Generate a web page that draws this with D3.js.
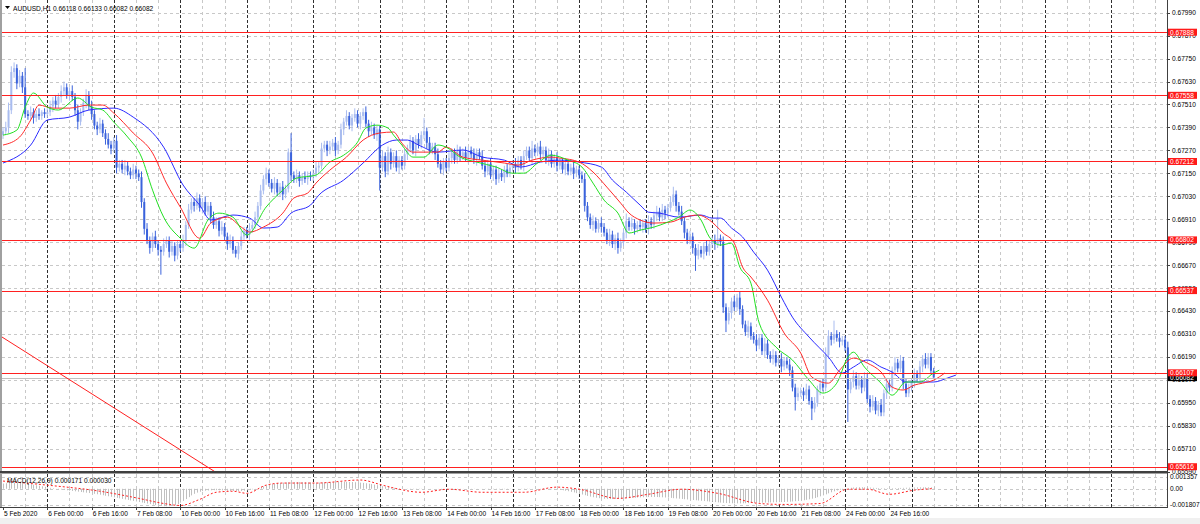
<!DOCTYPE html>
<html><head><meta charset="utf-8">
<script src="https://cdn.jsdelivr.net/npm/d3@7"></script>
<style>
html,body{margin:0;padding:0;background:#fff;overflow:hidden;}
svg{display:block;}
text{font-family:"Liberation Sans", Arial, sans-serif;}
</style></head><body>
<svg id="c" width="1200" height="524"></svg>
<script>
// ---------------- DATA ----------------
const chartTitle = "AUDUSD,H1  0.66118 0.66133 0.66082 0.66082";
const macdTitle = "MACD(12,26,9) 0.000171 0.000030";
const firstOpen = 0.6735;
// hourly closes, 5 Feb 08:00 .. 25 Feb 08:00
const closes = [
0.6737,0.6739,0.6748,0.6768,0.6770,0.6762,0.6766,0.6760,0.6746,0.6745,0.6747,0.6744,0.6746,0.6745,0.6747,0.6746,
0.6747,0.6750,0.6753,0.6751,0.6755,0.6758,0.6760,0.6756,0.6758,0.6755,0.6748,0.6742,0.6747,0.6752,0.6756,0.6750,0.6746,0.6740,0.6738,0.6741,0.6736,0.6733,0.6730,0.6728,
0.6732,0.6718,0.6720,0.6717,0.6719,0.6716,0.6714,0.6717,0.6715,0.6713,0.6700,0.6686,0.6680,0.6676,0.6682,0.6678,0.6675,0.6674,0.6678,0.6680,0.6674,0.6677,0.6672,0.6678,
0.6676,0.6680,0.6688,0.6696,0.6700,0.6698,0.6702,0.6697,0.6700,0.6695,0.6698,0.6692,0.6688,0.6690,0.6685,0.6687,0.6682,0.6678,0.6680,0.6675,0.6673,0.6677,0.6682,0.6685,
0.6683,0.6686,0.6688,0.6692,0.6698,0.6706,0.6712,0.6715,0.6710,0.6707,0.6710,0.6705,0.6708,0.6704,0.6707,0.6726,0.6714,0.6712,0.6714,0.6711,0.6713,0.6712,0.6714,0.6713,
0.6715,0.6718,0.6719,0.6728,0.6730,0.6727,0.6729,0.6731,0.6727,0.6730,0.6738,0.6742,0.6745,0.6740,0.6744,0.6746,0.6741,0.6745,0.6747,0.6741,0.6737,0.6739,0.6735,0.6738,
0.6718,0.6724,0.6716,0.6726,0.6720,0.6724,0.6718,0.6722,0.6719,0.6725,0.6728,0.6732,0.6727,0.6733,0.6730,0.6735,0.6737,0.6731,0.6727,0.6729,0.6725,0.6720,0.6717,0.6721,
0.6718,0.6723,0.6726,0.6722,0.6727,0.6724,0.6726,0.6723,0.6727,0.6725,0.6722,0.6726,0.6724,0.6719,0.6716,0.6720,0.6714,0.6717,0.6712,0.6715,0.6713,0.6717,0.6715,0.6718,
0.6720,0.6718,0.6722,0.6719,0.6724,0.6727,0.6723,0.6728,0.6726,0.6729,0.6725,0.6727,0.6722,0.6725,0.6720,0.6723,0.6719,0.6721,0.6717,0.6720,0.6716,0.6718,0.6715,0.6717,
0.6714,0.6712,0.6698,0.6692,0.6688,0.6690,0.6686,0.6689,0.6687,0.6684,0.6680,0.6683,0.6678,0.6681,0.6676,0.6679,0.6684,0.6690,0.6687,0.6689,0.6686,0.6688,0.6687,0.6689,
0.6686,0.6690,0.6688,0.6693,0.6695,0.6692,0.6696,0.6694,0.6697,0.6700,0.6704,0.6698,0.6695,0.6690,0.6684,0.6680,0.6682,0.6676,0.6672,0.6675,0.6673,0.6677,0.6674,0.6678,
0.6680,0.6678,0.6681,0.6679,0.6645,0.6638,0.6642,0.6648,0.6645,0.6650,0.6644,0.6636,0.6632,0.6635,0.6630,0.6628,0.6625,0.6629,0.6622,0.6626,0.6620,0.6618,0.6620,0.6616,
0.6618,0.6614,0.6617,0.6615,0.6612,0.6603,0.6598,0.6600,0.6601,0.6599,0.6602,0.6596,0.6592,0.6595,0.6602,0.6605,0.6603,0.6620,0.6630,0.6628,0.6631,0.6629,0.6627,0.6628,
0.6624,0.6602,0.6606,0.6609,0.6604,0.6607,0.6603,0.6608,0.6597,0.6593,0.6596,0.6591,0.6594,0.6590,0.6600,0.6605,0.6603,0.6612,0.6616,0.6613,0.6617,0.6605,0.6600,0.6603,
0.6606,0.6610,0.6608,0.6614,0.6618,0.6615,0.6619,0.66118,0.66082];
// upper / lower wick length of each bar, in pips
const wickHiPips = [
2,3,4,3,3,2,3,2,10,2,3,2,2,3,1,2,
2,3,2,3,2,3,3,2,2,3,2,3,2,2,3,2,3,2,2,3,2,2,3,2,
2,3,2,2,3,2,2,3,2,2,3,2,3,2,2,3,2,2,3,2,2,3,2,2,
2,3,2,3,2,2,3,2,2,3,2,2,3,2,2,3,2,2,3,2,2,2,3,2,
2,3,2,3,2,3,2,3,2,2,3,2,2,3,2,2,10,2,3,2,2,3,2,2,
2,3,2,3,2,2,3,2,3,2,3,2,3,2,2,3,2,2,2,3,2,3,2,2,
2,3,2,3,2,2,3,2,2,3,2,3,2,2,3,2,7,2,3,2,2,3,2,2,
2,3,2,2,3,2,2,3,2,2,3,2,2,3,2,2,3,2,2,3,2,2,3,2,
2,3,2,2,3,2,2,4,2,2,3,2,2,3,2,2,3,2,2,3,2,2,3,2,
2,2,3,2,2,3,2,2,3,2,2,3,2,2,3,2,2,4,2,3,2,2,3,2,
2,3,2,2,3,2,3,2,2,3,4,2,2,3,2,2,3,2,2,3,2,2,3,2,
2,3,15,2,3,2,3,2,3,2,3,2,2,3,2,2,3,2,2,3,2,2,3,2,
2,3,2,2,3,2,2,3,2,2,3,2,2,3,2,2,3,4,3,2,7,2,3,2,
2,3,2,3,2,3,2,3,2,2,3,2,2,3,2,3,2,2,3,2,3,2,3,2,
2,3,2,3,2,3,2,2,1.5];
const wickLoPips = [
2,2,3,2,3,3,2,3,2,2,2,3,2,2,2,2,
2,2,3,2,2,3,2,2,3,2,3,4,2,2,3,2,3,2,3,2,2,3,2,3,
2,3,2,2,3,2,2,2,3,2,3,3,2,3,2,2,3,12,2,2,3,2,3,2,
2,2,3,2,2,3,2,2,3,2,2,3,2,2,3,2,2,3,2,2,2,3,2,2,
2,3,2,2,3,2,2,3,2,2,3,2,2,3,2,2,3,2,2,3,2,2,3,2,
2,2,3,2,2,3,2,2,3,2,2,3,2,2,3,2,2,3,2,2,3,2,2,3,
12,2,3,2,3,2,2,3,2,2,3,2,2,3,2,2,2,3,2,2,3,2,2,3,
2,2,3,2,2,3,2,2,3,2,2,3,2,2,3,2,2,3,3,2,2,3,2,2,
2,3,2,2,3,2,2,3,2,2,3,2,2,3,2,2,3,2,2,3,2,2,3,2,
2,2,3,2,2,3,2,2,3,2,2,3,2,3,3,2,2,3,2,2,3,2,2,3,
2,3,2,2,3,2,2,3,2,2,2,3,2,2,3,2,2,3,8,2,2,3,2,2,
2,3,2,2,3,6,2,3,2,2,3,2,2,3,2,2,3,2,2,3,2,2,3,2,
2,3,2,2,3,2,7,2,2,3,2,2,6,2,2,3,2,2,2,3,2,2,3,2,
2,17,2,3,2,2,3,2,2,3,2,2,3,2,2,3,2,2,3,2,2,3,2,2,
2,3,2,2,3,2,2,2,0];

// Alligator lines (bar index, price)
const jawBars = [0,10,16,24,31,40,47,58,65,71,75,83,89,94,99,104,111,114,123,130,137,142,146,150,157,166,173,181,187,194,201,208,216,220,225,230,233,237,244,252,256,259,263,267,271,276,281,285,291,298,303,307,312,317,321,326,331,336,341,344];
const jawPrices = [0.67204,0.67298,0.67429,0.67444,0.67481,0.67491,0.67444,0.67287,0.67089,0.66984,0.66906,0.66932,0.66916,0.66864,0.66869,0.66942,0.66984,0.67036,0.67115,0.67204,0.67298,0.67324,0.67324,0.67298,0.67261,0.67272,0.67235,0.67219,0.67183,0.67209,0.67219,0.67209,0.67183,0.67115,0.67052,0.66984,0.66947,0.66942,0.66921,0.66932,0.66916,0.66916,0.66864,0.66817,0.66738,0.66644,0.66503,0.66398,0.66294,0.66189,0.66106,0.66137,0.66174,0.66137,0.66111,0.66059,0.66059,0.66059,0.66080,0.66095];
const teethBars = [0,6,10,13,18,24,31,36,40,47,54,59,64,71,75,81,86,89,94,101,105,110,113,118,124,130,136,141,144,148,157,160,166,173,181,186,191,198,201,208,213,218,223,226,230,235,241,246,251,255,260,264,267,270,276,282,288,292,298,302,307,312,317,321,325,329,332,336,340];
const teethPrices = [0.67298,0.67340,0.67429,0.67507,0.67491,0.67491,0.67507,0.67507,0.67465,0.67361,0.67256,0.67099,0.66974,0.66811,0.66890,0.66921,0.66869,0.66843,0.66869,0.66942,0.67021,0.67047,0.67099,0.67167,0.67235,0.67324,0.67361,0.67366,0.67308,0.67261,0.67261,0.67287,0.67235,0.67219,0.67204,0.67193,0.67219,0.67235,0.67230,0.67209,0.67157,0.67078,0.66994,0.66942,0.66906,0.66890,0.66895,0.66921,0.66932,0.66906,0.66838,0.66785,0.66660,0.66608,0.66487,0.66315,0.66210,0.66085,0.66053,0.66121,0.66184,0.66158,0.66111,0.66032,0.66017,0.66043,0.66053,0.66069,0.66106];
const lipsBars = [0,5,8,11,16,20,27,32,36,40,45,50,54,58,64,69,74,78,83,88,95,101,106,113,118,123,128,131,135,139,141,144,148,152,157,160,165,171,178,184,188,193,198,204,209,213,217,222,226,230,235,240,244,248,252,255,259,263,266,270,273,279,285,291,296,301,305,307,311,317,321,326,331,336,338];
const lipsPrices = [0.67350,0.67376,0.67496,0.67570,0.67496,0.67481,0.67544,0.67496,0.67481,0.67418,0.67340,0.67235,0.67062,0.66921,0.66811,0.66759,0.66906,0.66942,0.66921,0.66827,0.66974,0.67062,0.67125,0.67141,0.67209,0.67245,0.67313,0.67387,0.67402,0.67387,0.67350,0.67298,0.67235,0.67235,0.67298,0.67287,0.67235,0.67209,0.67183,0.67151,0.67151,0.67204,0.67245,0.67219,0.67183,0.67099,0.67010,0.66942,0.66838,0.66853,0.66869,0.66895,0.66921,0.66958,0.66906,0.66817,0.66775,0.66785,0.66660,0.66576,0.66367,0.66242,0.66174,0.66069,0.66001,0.66053,0.66189,0.66215,0.66137,0.66053,0.65990,0.66059,0.66059,0.66106,0.66121];

// MACD main (histogram), in points (0.00001), one per bar
const macdMainPts = [
60,64,68,70,72,71,69,66,62,58,53,47,41,35,29,23,
17,11,6,1,-4,-9,-13,-17,-21,-25,-29,-33,-37,-41,-45,-49,
-53,-58,-63,-68,-74,-80,-86,-92,-98,-104,-110,-116,-122,-128,-134,-140,
-146,-152,-158,-164,-170,-176,-182,-188,-193,-197,-200,-201,-200,-196,-188,-176,
-160,-140,-118,-96,-76,-58,-44,-34,-27,-22,-19,-17,-16,-16,-17,-18,
-20,-22,-24,-25,-26,-26,-25,-22,-18,-12,-6,1,9,18,28,38,
46,53,59,64,68,71,73,75,76,77,77,77,76,75,74,73,
72,71,71,72,73,74,75,76,77,78,79,80,80,79,78,76,
74,71,68,64,59,54,48,42,36,30,25,20,15,11,7,4,
2,0,-2,-3,-4,-4,-3,-2,-1,0,1,1,0,-1,-2,-3,
-4,-5,-5,-4,-3,-2,-1,0,1,2,2,1,0,-1,-2,-3,
-4,-5,-6,-6,-5,-4,-3,-2,-1,0,1,2,3,3,2,1,
0,-1,-2,-3,-4,-5,-6,-8,-10,-13,-17,-22,-28,-35,-42,-50,
-58,-66,-74,-82,-90,-97,-103,-108,-112,-115,-117,-118,-118,-117,-115,-113,
-111,-109,-107,-105,-103,-101,-99,-97,-96,-95,-94,-94,-95,-96,-98,-100,
-102,-105,-108,-111,-114,-117,-120,-123,-126,-129,-132,-135,-138,-141,-144,-147,
-150,-153,-156,-159,-162,-164,-166,-167,-168,-168,-168,-167,-166,-165,-164,-163,
-162,-161,-160,-159,-158,-157,-156,-155,-154,-153,-152,-150,-148,-146,-143,-140,
-136,-132,-127,-121,-114,-106,-97,-87,-76,-64,-52,-40,-29,-19,-10,-3,
3,8,12,15,17,18,18,17,16,14,12,10,8,7,6,6,
6,7,8,9,10,11,12,13,14,15,16,17,17,17,17,17,17];
// MACD signal read at sample bars (points)
const signalBars = [0,16,35,49,58,64,71,77,83,88,95,101,113,129,137,143,151,161,173,188,200,208,222,233,245,258,273,282,295,305,312,320,329,336];
const signalPts = [89,42,-28,-110,-169,-192,-122,-40,-28,-52,42,66,66,101,42,-5,-40,-5,-40,-40,19,-5,-110,-63,-5,-52,-169,-180,-169,-5,-5,-63,-16,3];

// horizontal levels
const levelPrices = [0.67888,0.67558,0.67212,0.66802,0.66537,0.66107,0.65616];
const bidPrice = 0.66082;
// trend line (bar index, price)
const trendBars = [-1, 76.5];
const trendPrices = [0.66300, 0.65590];
// price axis ticks
const priceTicks = [0.67990,0.67870,0.67750,0.67630,0.67510,0.67390,0.67270,0.67150,0.67030,0.66910,0.66790,0.66670,0.66550,0.66430,0.66310,0.66190,0.66070,0.65950,0.65830,0.65710,0.65590];
const macdTicks = [0.001357, 0.00, -0.001807];
const macdTickLabels = ["0.001357","0.00","-0.001807"];
// time axis
const timeLabelBars = [0,16,32,48,64,80,96,112,128,144,160,176,192,208,224,240,256,272,288,304,320];
const timeLabels = ["5 Feb 2020","6 Feb 00:00","6 Feb 16:00","7 Feb 08:00","10 Feb 00:00","10 Feb 16:00","11 Feb 08:00","12 Feb 00:00","12 Feb 16:00","13 Feb 08:00","14 Feb 00:00","14 Feb 16:00","17 Feb 08:00","18 Feb 00:00","18 Feb 16:00","19 Feb 08:00","20 Feb 00:00","20 Feb 16:00","21 Feb 08:00","24 Feb 00:00","24 Feb 16:00"];
const daySeparatorBars = [16,40,64,88,112,136,160,184,208,232,256,280,304,328,352,376,400];

// ---------------- DRAW ----------------
const svg = d3.select("#c");
const W = 1200, H = 524;
const plotRight = 1167, mainTop = 0, mainBottom = 471, subTop = 474, subBottom = 507;
const x = d3.scaleLinear().domain([0, 420]).range([3, 3 + 420 * 2.77]);
const y = d3.scaleLinear().domain([0.65590, 0.67990]).range([471.7, 12.7]);
const ym = d3.scaleLinear().domain([-0.001807, 0.001357]).range([504.5, 477]);

svg.append("rect").attr("width", W).attr("height", H).attr("fill", "#ffffff");
svg.append("rect").attr("x", 0).attr("y", 518).attr("width", W).attr("height", 6).attr("fill", "#f0f0f0");

const defs = svg.append("defs");
defs.append("clipPath").attr("id", "mainClip").append("rect")
  .attr("x", 2).attr("y", mainTop).attr("width", plotRight - 2).attr("height", mainBottom - mainTop);
defs.append("clipPath").attr("id", "subClip").append("rect")
  .attr("x", 2).attr("y", subTop).attr("width", plotRight - 2).attr("height", subBottom - subTop);

const main = svg.append("g").attr("clip-path", "url(#mainClip)");
const sub = svg.append("g").attr("clip-path", "url(#subClip)");

// grid
const gridBars = d3.range(8, 421, 8);
const isSep = b => daySeparatorBars.includes(b);
[main, sub].forEach((g, k) => {
  const top = k === 0 ? mainTop : subTop, bot = k === 0 ? mainBottom : subBottom;
  g.selectAll(null).data(gridBars.filter(b => !isSep(b))).enter().append("line")
    .attr("x1", b => Math.round(x(b)) + 0.5).attr("x2", b => Math.round(x(b)) + 0.5)
    .attr("y1", top).attr("y2", bot)
    .attr("stroke", "#c8c8c8").attr("stroke-width", 1).attr("stroke-dasharray", "3,3");
});
main.selectAll(null).data(priceTicks).enter().append("line")
  .attr("x1", 2).attr("x2", plotRight)
  .attr("y1", d => Math.round(y(d)) + 0.5).attr("y2", d => Math.round(y(d)) + 0.5)
  .attr("stroke", "#c8c8c8").attr("stroke-dasharray", "3,3");
sub.selectAll(null).data(macdTicks).enter().append("line")
  .attr("x1", 2).attr("x2", plotRight)
  .attr("y1", d => Math.round(ym(d)) + 0.5).attr("y2", d => Math.round(ym(d)) + 0.5)
  .attr("stroke", "#c8c8c8").attr("stroke-dasharray", "3,3");
// day separators
[main, sub].forEach((g, k) => {
  const top = k === 0 ? mainTop : subTop, bot = k === 0 ? mainBottom : subBottom;
  g.selectAll(null).data(daySeparatorBars).enter().append("line")
    .attr("x1", b => Math.round(x(b)) + 0.5).attr("x2", b => Math.round(x(b)) + 0.5)
    .attr("y1", top).attr("y2", bot)
    .attr("stroke", "#303030").attr("stroke-width", 1).attr("stroke-dasharray", "3,2");
});

// candles
const bars = closes.map((c, i) => {
  const o = i === 0 ? firstOpen : closes[i - 1];
  return { i, o, c, h: Math.max(o, c) + wickHiPips[i] * 0.0001, l: Math.min(o, c) - wickLoPips[i] * 0.0001 };
});
const bullCol = "#a9bcef", bearCol = "#3b63dc";
const cg = main.append("g");
cg.selectAll("line.w").data(bars).enter().append("line")
  .attr("x1", d => x(d.i)).attr("x2", d => x(d.i))
  .attr("y1", d => y(d.h)).attr("y2", d => y(d.l))
  .attr("stroke", d => d.c >= d.o ? bullCol : bearCol).attr("stroke-width", 1);
cg.selectAll("rect.b").data(bars).enter().append("rect")
  .attr("x", d => x(d.i) - 1).attr("width", 2)
  .attr("y", d => y(Math.max(d.o, d.c)))
  .attr("height", d => Math.max(1, Math.abs(y(d.o) - y(d.c))))
  .attr("fill", d => d.c >= d.o ? bullCol : bearCol);

// alligator
const lineGen = d3.line().x(d => x(d[0])).y(d => y(d[1])).curve(d3.curveMonotoneX);
const drawLine = (bs, ps, col) => main.append("path")
  .datum(bs.map((b, i) => [b, ps[i]]))
  .attr("d", lineGen).attr("fill", "none").attr("stroke", col).attr("stroke-width", 1);
drawLine(jawBars, jawPrices, "#2a2aff");
drawLine(teethBars, teethPrices, "#ff2a2a");
drawLine(lipsBars, lipsPrices, "#22e022");

// horizontal levels
main.append("line").attr("x1", 2).attr("x2", plotRight)
  .attr("y1", Math.round(y(bidPrice)) + 0.5).attr("y2", Math.round(y(bidPrice)) + 0.5)
  .attr("stroke", "#c0c0c0");
main.selectAll(null).data(levelPrices).enter().append("line")
  .attr("x1", 2).attr("x2", plotRight)
  .attr("y1", d => Math.round(y(d)) + 0.5).attr("y2", d => Math.round(y(d)) + 0.5)
  .attr("stroke", "#ff2020").attr("stroke-width", 1);
// trend line
main.append("line")
  .attr("x1", x(trendBars[0])).attr("y1", y(trendPrices[0]))
  .attr("x2", x(trendBars[1])).attr("y2", y(trendPrices[1]))
  .attr("stroke", "#ff2020").attr("stroke-width", 1);

// MACD
sub.selectAll("line.h").data(macdMainPts).enter().append("line")
  .attr("x1", (d, i) => Math.round(x(i)) + 0.5).attr("x2", (d, i) => Math.round(x(i)) + 0.5)
  .attr("y1", ym(0)).attr("y2", d => ym(d / 100000))
  .attr("stroke", "#c0c0c0").attr("stroke-width", 1);
sub.append("path")
  .datum(signalBars.map((b, i) => [b, signalPts[i] / 100000]))
  .attr("d", d3.line().x(d => x(d[0])).y(d => ym(d[1])).curve(d3.curveMonotoneX))
  .attr("fill", "none").attr("stroke", "#ff2020").attr("stroke-width", 1).attr("stroke-dasharray", "2,2");

// frames
svg.append("rect").attr("x", 0).attr("y", 0).attr("width", 2).attr("height", 507).attr("fill", "#a0a0a0");
svg.append("line").attr("x1", plotRight + 0.5).attr("x2", plotRight + 0.5).attr("y1", 0).attr("y2", 507)
  .attr("stroke", "#404040");
svg.append("rect").attr("x", 0).attr("y", mainBottom).attr("width", plotRight + 1).attr("height", 2).attr("fill", "#404040");
svg.append("line").attr("x1", 0).attr("x2", plotRight).attr("y1", subTop - 0.5).attr("y2", subTop - 0.5).attr("stroke", "#a0a0a0");
svg.append("line").attr("x1", 0).attr("x2", plotRight + 1).attr("y1", subBottom + 0.5).attr("y2", subBottom + 0.5).attr("stroke", "#404040");

// price axis
const fs = 6.6;
const ax = svg.append("g");
ax.selectAll(null).data(priceTicks).enter().append("line")
  .attr("x1", plotRight).attr("x2", plotRight + 3)
  .attr("y1", d => Math.round(y(d)) + 0.5).attr("y2", d => Math.round(y(d)) + 0.5).attr("stroke", "#404040");
ax.selectAll(null).data(priceTicks).enter().append("text")
  .attr("x", plotRight + 5).attr("y", d => y(d) + 2.4)
  .attr("font-size", fs).attr("fill", "#000").text(d => d.toFixed(5));
ax.selectAll(null).data(macdTicks).enter().append("text")
  .attr("x", plotRight + 3).attr("y", d => ym(d) + 2.4)
  .attr("font-size", fs).attr("fill", "#000").text((d, i) => macdTickLabels[i]);
// bid box, then level boxes on top
ax.append("rect").attr("x", plotRight + 1).attr("y", y(bidPrice) - 3.5).attr("width", 29).attr("height", 7).attr("fill", "#000");
ax.append("text").attr("x", plotRight + 3).attr("y", y(bidPrice) + 2.4).attr("font-size", fs).attr("fill", "#fff").text(bidPrice.toFixed(5));
const lv = ax.selectAll("g.lv").data(levelPrices).enter().append("g");
lv.append("rect").attr("x", plotRight + 1).attr("y", d => y(d) - 3.5).attr("width", 29).attr("height", 7).attr("fill", "#ff1a1a");
lv.append("text").attr("x", plotRight + 3).attr("y", d => y(d) + 2.4).attr("font-size", fs).attr("fill", "#fff").text(d => d.toFixed(5));

// time axis
svg.selectAll(null).data(timeLabelBars).enter().append("line")
  .attr("x1", b => Math.round(x(b)) + 0.5).attr("x2", b => Math.round(x(b)) + 0.5)
  .attr("y1", subBottom).attr("y2", subBottom + 3).attr("stroke", "#404040");
svg.selectAll(null).data(timeLabelBars).enter().append("text")
  .attr("x", b => x(b) + 1).attr("y", 516)
  .attr("font-size", fs).attr("fill", "#000").text((b, i) => timeLabels[i]);

// titles
svg.append("path").attr("d", "M5,6 L10,6 L7.5,9 Z").attr("fill", "#000");
svg.append("text").attr("x", 13).attr("y", 10.5).attr("font-size", fs).attr("fill", "#000").text(chartTitle);
svg.append("text").attr("x", 7).attr("y", 483).attr("font-size", fs).attr("fill", "#000").text(macdTitle);
</script>
</body></html>
